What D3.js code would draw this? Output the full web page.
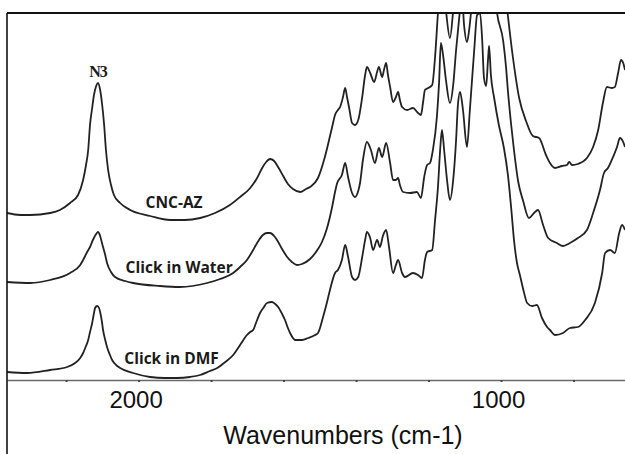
<!DOCTYPE html>
<html>
<head>
<meta charset="utf-8">
<script src="https://cdn.jsdelivr.net/npm/d3@7"></script>
<style>
  html, body { margin: 0; padding: 0; background: #fff; }
  svg { display: block; }
</style>
</head>
<body>
<svg id="chart" width="625" height="454"></svg>
<script>
// ---- DATA (wavenumber in cm-1, absorbance in arbitrary units, stacked) ----
const cncAzWn = [2363,2327,2299,2244,2217,2189,2167,2153,2145,2139,2134,2128,2123,2117,2112,2106,2101,2095,2090,2084,2076,2068,2051,2023,1968,1913,1872,1830,1789,1748,1720,1692,1673,1659,1648,1637,1626,1615,1601,1588,1574,1554,1538,1527,1505,1486,1466,1458,1450,1444,1436,1430,1425,1419,1411,1403,1394,1383,1375,1370,1361,1350,1342,1337,1328,1323,1317,1312,1306,1298,1290,1284,1279,1273,1259,1243,1229,1221,1215,1210,1201,1190,1182,1174,1166,1154,1141,1132,1119,1099,1080,1058,1030,1003,981,967,950,931,912,895,876,865,851,832,818,812,804,788,763,746,732,719,708,694,686,677,669,663,658];
const cncAzAbs = [167,165,165,167,170,177,185,200,215,230,255,272,285,294,297,290,277,255,230,210,195,185,177,170,164,160,160,162,167,175,183,192,202,212,218,221,219,213,204,196,191,188,191,193,202,223,253,265,270,273,283,292,283,272,257,255,260,283,305,313,307,298,308,313,303,310,317,305,293,278,283,288,280,273,270,272,267,265,278,290,292,295,323,367,400,375,342,370,440,430,460,530,500,440,364,322,282,259,244,242,225,217,212,214,215,218,215,216,222,233,250,277,293,292,293,307,320,317,310];

const waterWn = [2363,2299,2244,2189,2161,2153,2142,2134,2126,2117,2112,2106,2101,2092,2087,2076,2065,2037,2015,1941,1886,1811,1775,1739,1720,1701,1687,1673,1657,1646,1637,1626,1618,1604,1590,1577,1563,1549,1527,1505,1494,1480,1466,1458,1452,1439,1430,1422,1411,1403,1394,1389,1381,1370,1359,1348,1337,1328,1317,1306,1298,1290,1284,1279,1270,1251,1232,1221,1212,1204,1196,1188,1177,1171,1166,1160,1152,1141,1132,1124,1116,1108,1102,1094,1088,1083,1069,1044,1025,1011,994,986,981,972,964,953,939,923,909,898,884,870,846,829,810,788,763,746,727,716,705,691,680,672,663,658];
const waterAbs = [98,97,100,107,115,120,128,133,140,146,148,144,137,125,117,108,103,99,97,94,93,97,101,107,113,120,128,137,145,147,147,144,140,131,123,118,115,116,121,131,138,152,173,188,197,205,217,203,187,183,189,197,220,238,230,217,232,223,237,217,200,200,202,195,188,187,188,182,203,215,217,230,263,297,337,325,300,277,295,330,360,385,355,338,350,367,440,480,420,367,339,312,289,255,229,199,179,162,167,170,155,142,137,134,137,142,150,167,190,207,212,223,233,242,238,233];

const dmfWn = [2363,2308,2244,2197,2175,2161,2153,2145,2139,2134,2128,2123,2120,2114,2109,2106,2101,2098,2092,2087,2079,2073,2062,2051,2015,1968,1927,1894,1858,1830,1803,1783,1761,1739,1720,1701,1692,1684,1673,1665,1654,1646,1632,1623,1615,1604,1596,1588,1582,1574,1568,1549,1532,1513,1505,1491,1480,1472,1458,1450,1439,1430,1422,1411,1403,1394,1383,1375,1370,1361,1353,1342,1334,1326,1317,1309,1298,1290,1284,1273,1265,1243,1229,1218,1210,1204,1190,1182,1174,1168,1163,1157,1149,1141,1132,1124,1119,1113,1105,1094,1086,1074,1066,1058,1052,1047,1041,1036,1033,1028,1019,1006,992,981,972,964,956,948,937,928,914,901,887,873,865,851,829,810,788,768,741,721,713,699,686,674,666,658];
const dmfAbs = [8,7,10,13,17,22,27,34,40,48,57,67,72,74,72,68,58,50,40,33,25,20,15,12,7,3,2,2,3,5,9,12,18,25,35,45,48,50,60,67,73,77,78,76,73,66,60,52,47,42,40,40,42,45,47,63,78,90,107,110,120,135,123,103,100,103,123,140,148,142,130,140,133,144,150,133,107,115,120,107,103,107,105,102,120,128,130,160,193,230,250,230,200,180,200,240,275,288,270,233,270,330,365,367,340,302,294,320,334,305,282,255,232,205,172,139,117,105,88,77,74,75,62,53,50,45,47,52,53,60,77,107,127,130,127,147,155,150];

const seriesNames = ["CNC-AZ", "Click in Water", "Click in DMF"];
const xTickValues = [2200, 2000, 1800, 1600, 1400, 1200, 1000, 800];
const xTickLabels = ["", "2000", "", "", "", "", "1000", ""];
const xTitle = "Wavenumbers (cm-1)";
// annotation anchors: text, wavenumber, absorbance
const annoText = ["N3", "CNC-AZ", "Click in Water", "Click in DMF"];
const annoWn   = [2112, 1902, 1888, 1909];
const annoAbs  = [303, 172, 107, 16];

// ---- CHART ----
(function () {
  const svg = d3.select("#chart");
  const H = 454;
  const mLeft = 7, mRight = 625, mTop = 13, mBottom = 380;

  const x = d3.scaleLinear().domain([2363, 658]).range([mLeft, mRight]);
  const y = d3.scaleLinear().domain([0, 367]).range([mBottom, mTop]);

  svg.append("defs").append("clipPath").attr("id", "plotclip")
    .append("rect").attr("x", mLeft).attr("y", mTop)
    .attr("width", mRight - mLeft).attr("height", mBottom - mTop);

  const series = [
    { name: seriesNames[0], wn: cncAzWn, abs: cncAzAbs },
    { name: seriesNames[1], wn: waterWn, abs: waterAbs },
    { name: seriesNames[2], wn: dmfWn, abs: dmfAbs }
  ];

  const line = d3.line()
    .x(d => x(d[0]))
    .y(d => y(d[1]))
    .curve(d3.curveMonotoneX);

  const g = svg.append("g").attr("clip-path", "url(#plotclip)");
  series.forEach(s => {
    const pts = s.wn.map((w, i) => [w, s.abs[i]]);
    g.append("path")
      .datum(pts)
      .attr("fill", "none")
      .attr("stroke", "#222")
      .attr("stroke-width", 1.8)
      .attr("stroke-linejoin", "round")
      .attr("d", line);
  });

  const xAxis = d3.axisBottom(x)
    .tickValues(xTickValues)
    .tickFormat((d, i) => xTickLabels[i])
    .tickSize(2)
    .tickSizeOuter(0)
    .tickPadding(9);

  const ax = svg.append("g")
    .attr("transform", `translate(0,${mBottom})`)
    .call(xAxis);
  ax.select(".domain").attr("stroke", "#6a6a6a").attr("stroke-width", 1.6);
  ax.selectAll(".tick line").attr("stroke", "#444").attr("stroke-width", 2);
  ax.selectAll(".tick text")
    .attr("font-family", "'Liberation Sans', Arial, sans-serif")
    .attr("font-size", 24)
    .attr("fill", "#111")
    .attr("dx", -3);

  svg.append("text")
    .attr("x", 343).attr("y", 444)
    .attr("text-anchor", "middle")
    .attr("font-family", "'Liberation Sans', Arial, sans-serif")
    .attr("font-size", 25)
    .attr("fill", "#111")
    .text(xTitle);

  svg.append("line").attr("x1", mLeft).attr("x2", mLeft).attr("y1", mTop).attr("y2", H)
    .attr("stroke", "#111").attr("stroke-width", 1.6);
  svg.append("line").attr("x1", mLeft).attr("x2", mRight).attr("y1", mTop).attr("y2", mTop)
    .attr("stroke", "#111").attr("stroke-width", 2);

  annoText.forEach((t, i) => {
    const isN3 = i === 0;
    svg.append("text")
      .attr("x", x(annoWn[i]))
      .attr("y", y(annoAbs[i]))
      .attr("text-anchor", "middle")
      .attr("font-family", isN3 ? "'Liberation Serif', 'Times New Roman', serif" : "'Open Sans', sans-serif")
      .attr("font-weight", "bold")
      .attr("font-size", isN3 ? 16 : 15.5)
      .attr("letter-spacing", isN3 ? -1 : 0)
      .attr("fill", "#1a1a1a")
      .text(t);
  });
})();
</script>
</body>
</html>
